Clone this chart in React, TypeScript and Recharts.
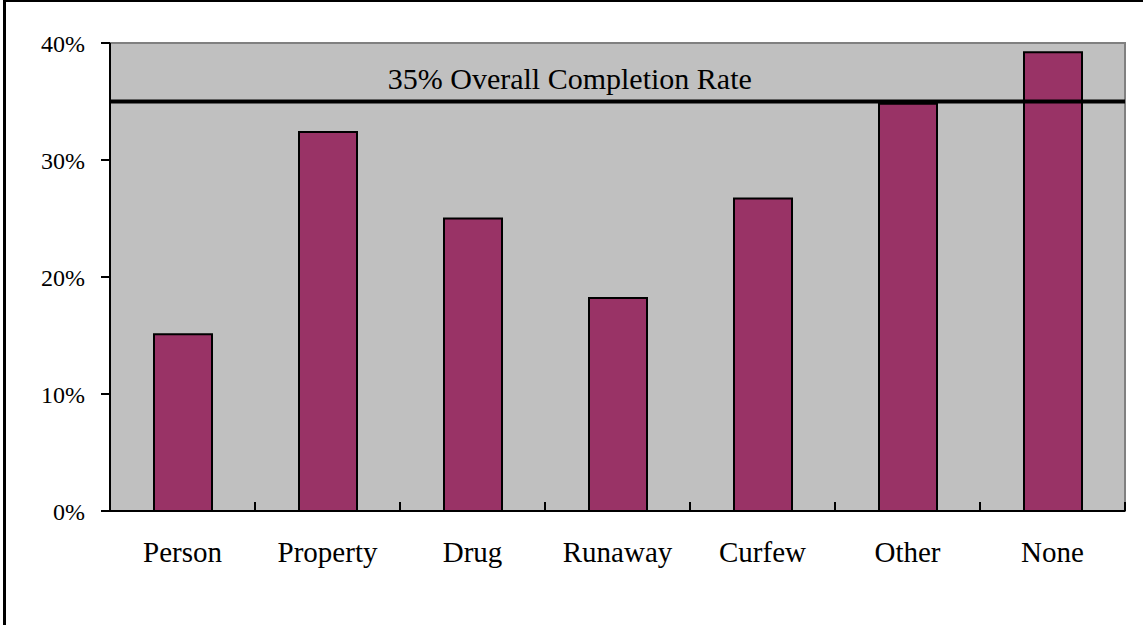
import React from "react";
import {
  BarChart,
  Bar,
  XAxis,
  YAxis,
  ReferenceArea,
  ReferenceLine,
} from "recharts";

// Completion rate by most serious offense type, against the overall rate.
const categories = ["Person", "Property", "Drug", "Runaway", "Curfew", "Other", "None"];
const completionRates = [15.1, 32.4, 25.0, 18.2, 26.7, 34.8, 39.2];
const overallRate = 35;
const overallLabel = "35% Overall Completion Rate";
const yTicks = [0, 10, 20, 30, 40];

const data = categories.map((name, i) => ({ name, rate: completionRates[i] }));

const FONT = "'Liberation Serif', 'Times New Roman', serif";
const X_TICK_MARGIN = 30;

// Category label plus a short inward tick on the category's right boundary.
function CategoryTick(props: any) {
  const { x, y, payload } = props;
  const axisY = y - X_TICK_MARGIN;
  const edgeX = x + (payload.offset || 0);
  return (
    <g>
      <line x1={edgeX} x2={edgeX} y1={axisY} y2={axisY - 9} stroke="#000" strokeWidth={2} />
      <text
        x={x}
        y={y}
        dy="0.71em"
        textAnchor="middle"
        fontFamily={FONT}
        fontSize={29}
        fill="#000"
      >
        {payload.value}
      </text>
    </g>
  );
}

function OverallLabel(props: any) {
  const { viewBox } = props;
  return (
    <text
      x={viewBox.x + viewBox.width * 0.453}
      y={viewBox.y - 13}
      textAnchor="middle"
      fontFamily={FONT}
      fontSize={30}
      fill="#000"
    >
      {overallLabel}
    </text>
  );
}

export default function App() {
  return (
    <div
      style={{
        position: "absolute",
        left: 0,
        top: 0,
        width: 1143,
        height: 625,
        background: "#fff",
      }}
    >
      <div
        style={{
          position: "absolute",
          left: 3,
          top: 0,
          width: 1140,
          height: 625,
          borderLeft: "3px solid #000",
          borderTop: "2px solid #000",
          boxSizing: "border-box",
        }}
      />
      <BarChart
        width={1143}
        height={625}
        data={data}
        margin={{ top: 43, right: 18, bottom: 0, left: 0 }}
        style={{ position: "absolute", left: 0, top: 0 }}
      >
        <ReferenceArea
          y1={0}
          y2={40}
          fill="#C0C0C0"
          fillOpacity={1}
          stroke="#808080"
          strokeWidth={2}
        />
        <XAxis
          dataKey="name"
          height={114}
          axisLine={{ stroke: "#000", strokeWidth: 2 }}
          tickLine={false}
          tickSize={0}
          tickMargin={X_TICK_MARGIN}
          tick={<CategoryTick />}
          interval={0}
        />
        <YAxis
          width={110}
          domain={[0, 40]}
          ticks={yTicks}
          interval={0}
          tickFormatter={(v: number) => `${v}%`}
          axisLine={{ stroke: "#000", strokeWidth: 2 }}
          tickLine={{ stroke: "#000", strokeWidth: 2 }}
          tickSize={9}
          tickMargin={16}
          tick={{ fontFamily: FONT, fontSize: 24, fill: "#000" }}
        />
        <Bar
          dataKey="rate"
          fill="#993366"
          stroke="#000"
          strokeWidth={2}
          barSize={58}
          isAnimationActive={false}
        />
        <ReferenceLine
          y={overallRate}
          stroke="#000"
          strokeWidth={4}
          label={<OverallLabel />}
        />
      </BarChart>
    </div>
  );
}
